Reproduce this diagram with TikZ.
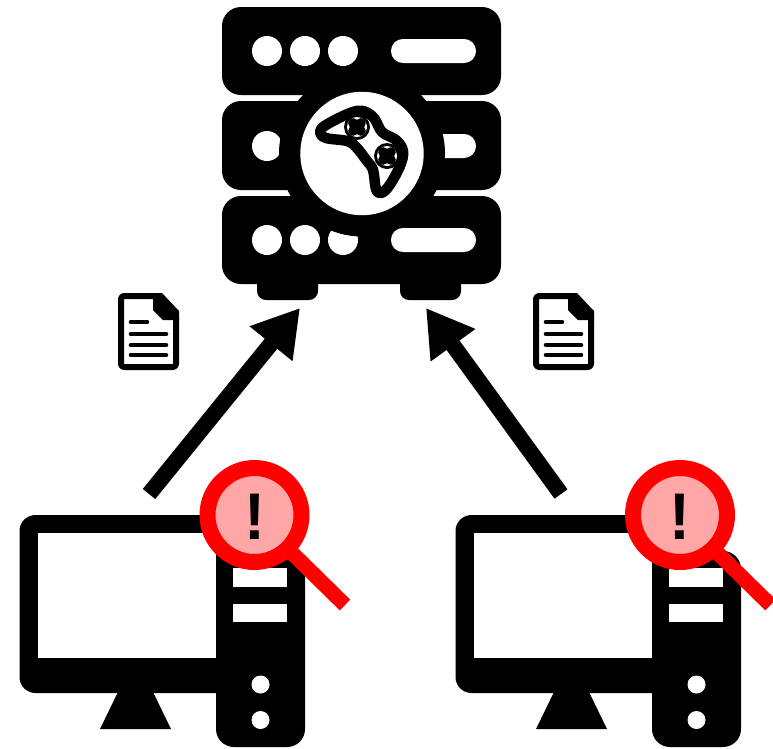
\documentclass[tikz,border=0pt]{standalone}
\usepackage{fontspec}
\setmainfont{Liberation Sans}
\usetikzlibrary{arrows.meta}
\definecolor{lens}{HTML}{FFA6A6}
\tikzset{
  rack/.style={fill=black,rounded corners=19pt},
  foot/.style={fill=black,rounded corners=9pt},
  hole/.style={fill=white},
  pill/.style={fill=white,rounded corners=11.9pt},
  flow/.style={line width=16pt,-{Triangle[length=46pt,width=52pt]}},
  docline/.style={line width=4.6pt,line cap=round},
  handle/.style={draw=red,line width=15pt},
  ring/.style={draw=red,line width=16pt,fill=lens},
}
\newcommand{\pcicon}[2]{%
  \begin{scope}[shift={(#1,0)}]
    \fill (100,729) -- (118,692) -- (153,692) -- (171,729) -- cycle;
    \fill[rounded corners=16pt] (19.5,515) rectangle (240,693);
    \fill[hole] (37.5,533) rectangle (216,657.5);
    \fill[rounded corners=18pt] (216,551) rectangle (305,747);
    \fill[hole] (233,568) rectangle (287,587);
    \fill[hole] (233,604) rectangle (287,622);
    \fill[hole] (260.5,684.5) circle (9);
    \fill[hole] (260.5,720) circle (9);
  \end{scope}
  \begin{scope}[shift={(#2,0)}]
    \draw[handle] (290,551) -- (345,605);
    \draw[ring] (254.5,515) circle (47);
    \node[font=\bfseries\fontsize{66}{66}\selectfont,inner sep=0pt,xscale=.95] at (254.5,517) {!};
  \end{scope}}
\newcommand{\docicon}[1]{%
  \begin{scope}[shift={(#1,0)}]
    \draw[line width=6pt,line join=round,fill=white,rounded corners=3pt]
      (121,296) -- (157,296) -- (176,315) -- (176,367) -- (121,367) -- cycle;
    \fill[line join=round] (153,293) -- (162,293) -- (179,311) -- (179,320) -- (163,320) -- (153,310) -- cycle;
    \draw[docline] (131,322) -- (147,322);
    \draw[docline] (131,334) -- (166,334);
    \draw[docline] (131,345) -- (166,345);
    \draw[docline] (131,355) -- (166,355);
  \end{scope}}
\newcommand{\padbutton}[2]{%
  \fill (#1,#2) circle (13);
  \fill[white] (#1,#2) circle (10);
  \fill (#1-3.8,#2-3.8) circle (5);
  \fill (#1+3.8,#2-3.8) circle (5);
  \fill (#1-3.8,#2+3.8) circle (5);
  \fill (#1+3.8,#2+3.8) circle (5);
  \fill (#1,#2) circle (6);}
\begin{document}
\begin{tikzpicture}[x=1pt,y=-1pt]
  \useasboundingbox (0,0) rectangle (773,748);
  % server
  \fill[foot] (257,270) rectangle (318,300);
  \fill[foot] (400,270) rectangle (461,300);
  \fill[rack] (222,7) rectangle (501,95);
  \fill[rack] (222,101) rectangle (501,190);
  \fill[rack] (222,196) rectangle (501,284);
  \foreach \cx in {267,305,343} {
    \fill[hole] (\cx,51) circle (15);
    \fill[hole] (\cx,240) circle (15);
  }
  \fill[hole] (267,146) circle (15);
  \fill[pill] (391,39) rectangle (476,63);
  \fill[pill] (391,228) rectangle (476,252);
  \fill[pill] (391,134) rectangle (476,158);
  \fill (362,153.5) circle (83);
  \fill[white] (362,153.5) circle (61.7);
  % game pad
  \draw[line width=10.5pt,fill=white,line join=round] plot[smooth cycle,tension=0.6] coordinates {
    (320,132) (326,125) (350,113) (363,111) (374,118) (382,132) (396,140) (403,151)
    (400,166) (389,186) (381,193) (376,189) (373,170) (367,161) (356,147) (347,141) (326,138)};
  \padbutton{357}{127}
  \padbutton{387}{156}
  % connectors
  \coordinate (serverleft) at (300,308);
  \coordinate (serverright) at (426,308);
  \coordinate (pcleft) at (149,494);
  \coordinate (pcright) at (561,494);
  \draw[flow] (pcleft) -- (serverleft);
  \draw[flow] (pcright) -- (serverright);
  % documents
  \docicon{0}
  \docicon{415}
  % computers
  \pcicon{0}{0}
  \pcicon{436}{425.5}
\end{tikzpicture}
\end{document}
